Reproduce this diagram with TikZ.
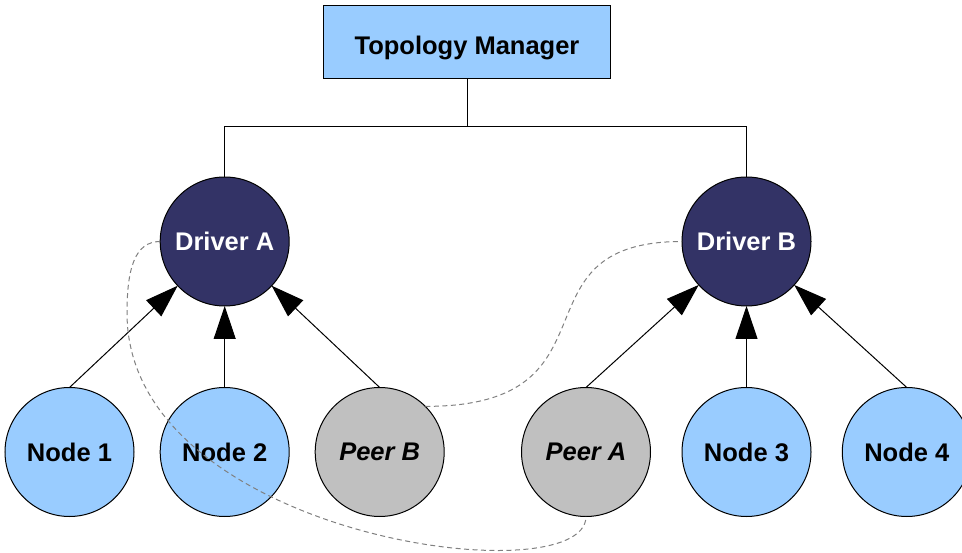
\documentclass[tikz,border=0pt]{standalone}
\usepackage{fontspec}
\setmainfont{Liberation Sans}
\usetikzlibrary{arrows.meta}
\definecolor{navy}{HTML}{333366}
\definecolor{lblue}{HTML}{99CCFF}
\definecolor{lgray}{HTML}{C0C0C0}
\definecolor{dashgray}{HTML}{808080}
\newcommand{\lblfont}{\fontsize{25.5}{30}\selectfont\bfseries}
\begin{document}
\begin{tikzpicture}[x=1pt,y=-1pt,
  circ/.style={circle, draw=black, line width=1pt, minimum size=129pt, inner sep=0pt, outer sep=0pt, font=\lblfont},
  driver/.style={circ, fill=navy, text=white},
  plainnode/.style={circ, fill=lblue},
  peer/.style={circ, fill=lgray, font=\lblfont\itshape},
  mgr/.style={rectangle, draw=black, line width=1pt, fill=lblue, minimum width=287pt, minimum height=73pt, inner sep=0pt, font=\lblfont, text height=25pt, text depth=0pt},
  tree/.style={draw=black, line width=1pt},
  feed/.style={draw=black, line width=1pt, -{Triangle[length=33pt,width=22pt]}},
  link/.style={draw=dashgray, line width=1pt, dash pattern=on 5pt off 3.5pt}
]
\useasboundingbox (0,0) rectangle (962,553);

\node[mgr] (tm) at (467,41.7) {Topology Manager};

\node[driver] (da) at (224.7,241.5) {Driver A};
\node[driver] (db) at (746.5,241.5) {Driver B};

\node[plainnode] (n1) at (69.5,452) {Node 1};
\node[plainnode] (n2) at (224.7,452) {Node 2};
\node[peer] (pb) at (379.7,452) {Peer B};
\node[peer] (pa) at (586,452) {Peer A};
\node[plainnode] (n3) at (746.5,452) {Node 3};
\node[plainnode] (n4) at (906.8,452) {Node 4};

\coordinate (bus) at (0,126.7);
\draw[tree] (tm.south) -- (tm.south |- bus) -| (da.north);
\draw[tree] (tm.south |- bus) -| (db.north);

\draw[feed] (n1.north) -- (da);
\draw[feed] (n2.north) -- (da);
\draw[feed] (pb.north) -- (da);
\draw[feed] (pa.north) -- (db);
\draw[feed] (n3.north) -- (db);
\draw[feed] (n4.north) -- (db);

\coordinate (bend) at (127,313);
\draw[link] (da.west) .. controls (135,241.5) and (127,268) .. (bend)
  .. controls (127,538) and (586,596.5) .. (pa.south);
\draw[link] (pb.45) .. controls (627,406.4) and (507,241.5) .. (db.west);
\end{tikzpicture}
\end{document}
